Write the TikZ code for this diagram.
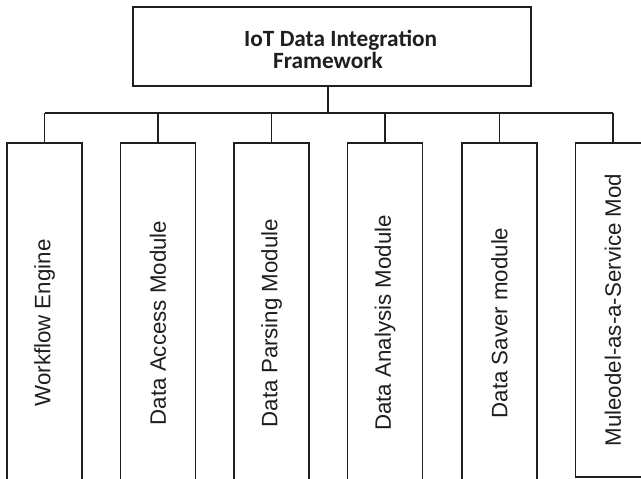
\documentclass[tikz,border=0pt]{standalone}
\usepackage{fontspec}
\usepackage{graphicx}
\setmainfont{Liberation Sans}
\newfontfamily\titlefont{Carlito}
\tikzset{
  frame/.style={draw=black!88, line width=1.5pt},
  topbox/.style={frame, minimum width=398pt, minimum height=79pt, inner sep=0pt},
  modbox/.style={frame, minimum width=75pt, minimum height=360pt, inner sep=0pt,
    font=\fontsize{22.3}{26}\selectfont, text=black!88},
  lastbox/.style={modbox, minimum height=334pt},
  titletext/.style={font=\titlefont\bfseries\fontsize{23.3}{26}\selectfont, inner sep=0pt, anchor=base west, text=black!88},
  link/.style={draw=black!88, line width=1.5pt}
}
\begin{document}
\begin{tikzpicture}[x=1pt,y=-1pt]
\useasboundingbox (0,0) rectangle (641,479);
\fill[white] (0,0) rectangle (641,479);
\clip (0,0) rectangle (641,479);
\node[topbox] (top) at (332,46.5) {};
\node[titletext] (t1) at (244,46) {IoT Data Integration};
\node[titletext] (t2) at (273,68) {Framework};
\node[modbox] (m1) at (44.5,323) {\rotatebox{90}{Workflow Engine}};
\node[modbox] (m2) at (158,323) {\rotatebox{90}{Data Access Module}};
\node[modbox] (m3) at (271.5,323) {\rotatebox{90}{Data Parsing Module}};
\node[modbox] (m4) at (385,323) {\rotatebox{90}{Data Analysis Module}};
\node[modbox] (m5) at (499.5,323) {\rotatebox{90}{Data Saver module}};
\node[lastbox] (m6) at (613,310) {\rotatebox{90}{Muleodel-as-a-Service Mod}};
\coordinate (bus) at (328,113);
\draw[link] (bus |- top.south) -- (bus);
\draw[link] (m1.north |- bus) -- (m6.north |- bus);
\foreach \m in {m1,m2,m3,m4,m5,m6}{
  \draw[link] (\m.north |- bus) -- (\m.north);
}
\end{tikzpicture}
\end{document}
